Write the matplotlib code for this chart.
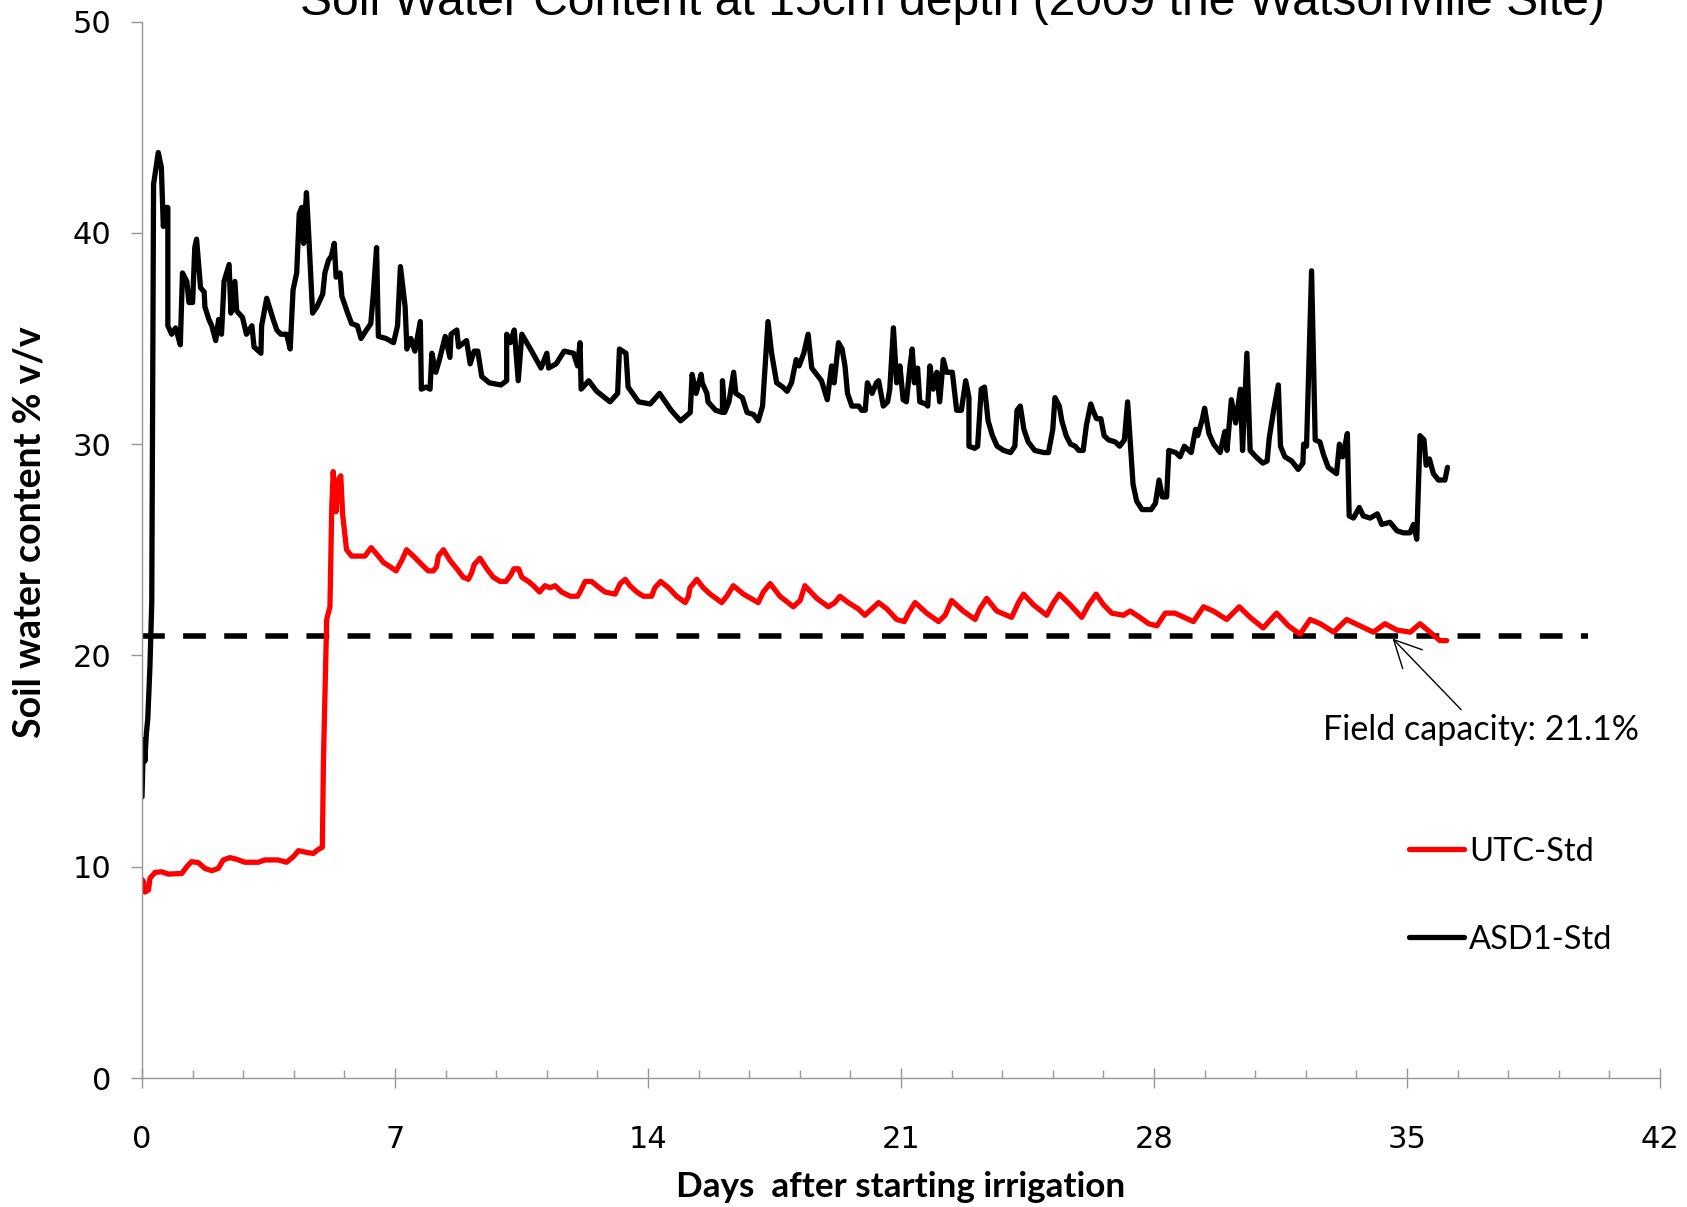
import matplotlib

matplotlib.use("Agg")

import matplotlib.pyplot as plt
from matplotlib.ticker import MultipleLocator

# ---- data (days after start, soil water content % v/v) ----
asd1_days = [
    0.00, 0.04, 0.08, 0.12, 0.16, 0.22, 0.27, 0.32, 0.45, 0.535, 0.59, 0.66, 0.715, 0.715,
    0.82, 0.93, 1.06, 1.12, 1.24, 1.30, 1.40, 1.46, 1.51, 1.62, 1.72, 1.74, 1.85, 1.93,
    2.04, 2.12, 2.20, 2.27, 2.41, 2.46, 2.57, 2.62, 2.78, 2.89, 3.04, 3.10, 3.29, 3.31,
    3.45, 3.63, 3.73, 3.84, 4.00, 4.10, 4.18, 4.28, 4.35, 4.42, 4.47, 4.55, 4.61, 4.72,
    4.84, 5.00, 5.06, 5.16, 5.24, 5.32, 5.37, 5.48, 5.53, 5.69, 5.80, 5.96, 6.06, 6.17,
    6.33, 6.40, 6.49, 6.54, 6.75, 6.96, 7.07, 7.15, 7.28, 7.33, 7.44, 7.55, 7.70, 7.73,
    7.86, 7.97, 8.02, 8.13, 8.23, 8.39, 8.52, 8.55, 8.71, 8.76, 8.98, 9.08, 9.19, 9.29,
    9.40, 9.61, 9.93, 10.09, 10.09, 10.19, 10.30, 10.41, 10.51, 10.78, 11.04, 11.20, 11.25,
    11.46, 11.68, 11.94, 12.05, 12.12, 12.15, 12.36, 12.58, 12.95, 13.16, 13.21, 13.39,
    13.45, 13.74, 14.06, 14.32, 14.64, 14.90, 15.17, 15.22, 15.33, 15.47,
    15.50, 15.63, 15.66, 15.87, 16.06, 16.06, 16.12, 16.24, 16.37, 16.43, 16.61, 16.74,
    16.92, 17.05, 17.17, 17.32, 17.42, 17.56, 17.73, 17.85, 17.97, 18.10, 18.18, 18.31,
    18.43, 18.53, 18.71, 18.80, 18.96, 19.08, 19.15, 19.27, 19.37, 19.45, 19.52, 19.64,
    19.83, 19.91, 20.01, 20.07, 20.20, 20.32, 20.38, 20.51, 20.63, 20.69, 20.79, 20.88,
    20.97, 21.06, 21.15, 21.25, 21.31, 21.37, 21.46, 21.52, 21.68, 21.74, 21.80, 21.89,
    21.99, 22.07, 22.17, 22.26, 22.42, 22.54, 22.67, 22.79, 22.88, 22.88, 23.04, 23.12,
    23.22, 23.31, 23.41, 23.53, 23.66, 23.84, 24.03, 24.15, 24.21, 24.30, 24.40, 24.52,
    24.70, 24.95, 25.08, 25.20, 25.26, 25.38, 25.45, 25.57, 25.69, 25.82, 25.92, 26.04,
    26.13, 26.25, 26.31, 26.41, 26.53, 26.62, 26.74, 26.93, 27.05, 27.18, 27.27, 27.36,
    27.42, 27.52, 27.67, 27.92, 28.04, 28.14, 28.23, 28.35, 28.41, 28.60, 28.72, 28.84,
    29.03, 29.15, 29.21, 29.34, 29.40, 29.52, 29.65, 29.83, 29.96, 30.02, 30.14, 30.26,
    30.39, 30.45, 30.57, 30.66, 30.82, 31.01, 31.13, 31.19, 31.31, 31.44, 31.50, 31.62,
    31.81, 31.99, 32.12, 32.14, 32.22, 32.36, 32.46, 32.59, 32.69, 32.82, 33.05, 33.13,
    33.22, 33.35, 33.40, 33.52, 33.68, 33.79, 33.98, 34.18, 34.30, 34.53, 34.72, 34.90,
    35.08, 35.18, 35.27, 35.36, 35.47, 35.53, 35.62, 35.73, 35.87, 35.96, 36.05, 36.12,
]
asd1_swc = [
    13.3, 16.0, 15.0, 16.3, 17.0, 19.5, 22.5, 42.3, 43.8, 43.1, 40.3, 41.2, 41.2, 35.6,
    35.2, 35.5, 34.7, 38.1, 37.7, 36.7, 36.7, 39.3, 39.7, 37.4, 37.2, 36.5, 35.9, 35.6,
    34.9, 35.9, 35.2, 37.7, 38.5, 36.2, 37.7, 36.3, 36.0, 35.2, 35.6, 34.6, 34.3, 35.6,
    36.9, 35.9, 35.4, 35.2, 35.2, 34.5, 37.3, 38.1, 40.9, 41.2, 39.5, 41.9, 40.0, 36.2,
    36.5, 37.1, 38.1, 38.7, 38.9, 39.5, 37.9, 38.1, 37.0, 36.2, 35.7, 35.6, 35.0, 35.3,
    35.7, 37.1, 39.3, 35.1, 35.0, 34.8, 35.6, 38.4, 36.5, 34.5, 35.0, 34.4, 35.8, 32.6,
    32.7, 32.6, 34.3, 33.4, 34.0, 35.1, 34.1, 35.2, 35.4, 34.6, 34.9, 33.8, 34.4, 34.4,
    33.2, 32.9, 32.8, 33.0, 35.2, 34.8, 35.4, 33.0, 35.2, 34.4, 33.6, 34.3, 33.6,
    33.8, 34.4, 34.3, 33.7, 34.8, 32.6, 33.0, 32.5, 32.0, 32.4, 34.5, 34.3,
    32.7, 32.0, 31.9, 32.4, 31.6, 31.1, 31.5, 33.3, 32.4, 33.3,
    32.9, 32.4, 32.0, 31.6, 31.5, 33.0, 31.5, 32.0, 33.4, 32.4, 32.2, 31.5,
    31.4, 31.1, 31.8, 35.8, 34.3, 32.9, 32.7, 32.5, 32.9, 34.0, 33.7, 34.3,
    35.2, 33.6, 33.2, 33.0, 32.1, 33.7, 32.9, 34.8, 34.5, 33.7, 32.4, 31.8,
    31.8, 31.6, 31.6, 32.9, 32.4, 32.9, 33.0, 31.8, 32.0, 32.6, 35.5, 32.9,
    33.7, 32.1, 32.0, 33.7, 34.5, 32.9, 33.6, 32.0, 31.9, 31.8, 33.7, 32.6,
    33.4, 32.0, 34.0, 33.4, 33.4, 31.6, 31.6, 33.0, 32.2, 29.9, 29.8, 29.9,
    32.6, 32.7, 31.1, 30.4, 29.9, 29.7, 29.6, 29.9, 31.6, 31.8, 30.7, 30.1,
    29.7, 29.6, 29.6, 30.7, 32.2, 31.8, 31.1, 30.4, 30.0, 29.9, 29.7, 29.7,
    30.9, 31.9, 31.6, 31.2, 31.2, 30.4, 30.2, 30.1, 29.9, 30.2, 32.0, 29.7,
    28.1, 27.3, 26.9, 26.9, 27.2, 28.3, 27.5, 27.5, 29.7, 29.6, 29.4, 29.9,
    29.6, 30.7, 30.4, 31.2, 31.7, 30.5, 30.0, 29.6, 30.6, 29.7, 32.1, 31.0,
    32.6, 29.7, 34.3, 29.7, 29.4, 29.1, 29.2, 30.3, 31.6, 32.8, 29.9, 29.4,
    29.2, 28.8, 29.1, 30.0, 29.9, 38.2, 30.2, 30.1, 29.5, 28.9, 28.6, 30.0,
    29.4, 30.5, 26.6, 26.5, 27.0, 26.6, 26.5, 26.7, 26.2, 26.3, 25.9, 25.8,
    25.8, 26.2, 25.5, 30.4, 30.2, 29.0, 29.3, 28.6, 28.3, 28.3, 28.3, 28.9,
]

utc_days = [
    0.00, 0.04, 0.08, 0.18, 0.22, 0.36, 0.54, 0.73, 1.10, 1.24, 1.37, 1.56, 1.74, 1.93,
    2.11, 2.25, 2.43, 2.62, 2.85, 3.22, 3.40, 3.77, 4.00, 4.19, 4.33, 4.60, 4.74, 4.88,
    4.99, 5.02, 5.11, 5.20, 5.25, 5.29, 5.37, 5.43, 5.50, 5.55, 5.62, 5.66, 5.80, 5.94,
    6.03, 6.17, 6.34, 6.54, 6.68, 6.86, 7.03, 7.19, 7.32, 7.51, 7.74, 7.92, 8.06, 8.15,
    8.20, 8.34, 8.52, 8.71, 8.89, 9.03, 9.12, 9.19, 9.35, 9.54, 9.72, 9.91, 10.07, 10.20,
    10.29, 10.42, 10.51, 10.69, 10.83, 11.00, 11.15, 11.29, 11.43, 11.61, 11.85, 12.05,
    12.12, 12.26, 12.44, 12.58, 12.81, 13.09, 13.23, 13.37, 13.50, 13.69, 13.87, 14.10,
    14.19, 14.35, 14.57, 14.79, 15.03, 15.12, 15.16, 15.35, 15.53, 15.72, 16.04, 16.18,
    16.36, 16.64, 17.05, 17.19, 17.38, 17.65, 18.02, 18.21, 18.34, 18.67, 18.99, 19.17,
    19.31, 19.54, 19.82, 20.00, 20.19, 20.38, 20.61, 20.88, 21.09, 21.21, 21.39, 21.71,
    22.04, 22.22, 22.40, 22.72, 23.05, 23.18, 23.37, 23.65, 24.06, 24.25, 24.39, 24.66,
    25.03, 25.22, 25.38, 25.68, 26.00, 26.19, 26.40, 26.60, 26.83, 27.15, 27.34, 27.61,
    27.85, 28.08, 28.31, 28.58, 29.09, 29.37, 29.64, 30.01, 30.36, 30.66, 31.02, 31.39,
    31.72, 32.04, 32.32, 32.60, 32.97, 33.33, 33.70, 34.07, 34.39, 34.72, 35.09, 35.36,
    35.64, 35.91, 36.10,
]
utc_swc = [
    9.4, 9.3, 8.8, 8.9, 9.45, 9.73, 9.76, 9.65, 9.68, 10.0, 10.24, 10.19, 9.92, 9.81,
    9.92, 10.32, 10.43, 10.35, 10.21, 10.21, 10.32, 10.32, 10.21, 10.48, 10.76, 10.66, 10.63, 10.82,
    10.92, 15.0, 21.7, 22.3, 27.0, 28.7, 26.8, 28.3, 28.5, 26.7, 25.6, 25.0, 24.7, 24.7,
    24.7, 24.7, 25.1, 24.7, 24.4, 24.2, 24.0, 24.5, 25.0, 24.7, 24.3, 24.0, 24.0, 24.2,
    24.7, 25.0, 24.5, 24.1, 23.7, 23.6, 23.9, 24.3, 24.6, 24.1, 23.7, 23.5, 23.5, 23.8,
    24.1, 24.1, 23.7, 23.5, 23.3, 23.0, 23.3, 23.2, 23.3, 23.0, 22.8, 22.8,
    23.0, 23.5, 23.5, 23.3, 23.0, 22.9, 23.4, 23.6, 23.3, 23.0, 22.8, 22.8,
    23.2, 23.5, 23.2, 22.8, 22.5, 22.8, 23.2, 23.6, 23.2, 22.9, 22.5, 22.8,
    23.3, 22.9, 22.5, 23.0, 23.4, 22.8, 22.3, 22.6, 23.3, 22.7, 22.3, 22.5,
    22.8, 22.5, 22.2, 21.9, 22.2, 22.5, 22.2, 21.7, 21.6, 22.0, 22.5, 22.0,
    21.6, 21.9, 22.6, 22.1, 21.7, 22.2, 22.7, 22.1, 21.8, 22.5, 22.9, 22.4,
    21.9, 22.5, 22.9, 22.4, 21.8, 22.4, 22.9, 22.4, 22.0, 21.9, 22.1, 21.8,
    21.5, 21.4, 22.0, 22.0, 21.6, 22.3, 22.1, 21.7, 22.3, 21.8, 21.3, 22.0,
    21.4, 21.0, 21.7, 21.5, 21.1, 21.7, 21.4, 21.1, 21.5, 21.2, 21.1, 21.5,
    21.1, 20.7, 20.7,
]

field_capacity_days = [0.0, 40.0]
field_capacity_level = [20.9, 20.9]

x_ticks = [0, 7, 14, 21, 28, 35, 42]
y_ticks = [0, 10, 20, 30, 40, 50]

TITLE = "Soil Water Content at 15cm depth (2009 the Watsonville Site)"
AXIS_GRAY = "#969696"
FONT = ["Lato", "DejaVu Sans"]


def main() -> None:
    plt.rcParams["font.family"] = FONT
    fig = plt.figure(figsize=(16.87, 12.07), dpi=100)
    ax = fig.add_axes([142 / 1687, 129 / 1207, 1518 / 1687, 1056.5 / 1207])

    ax.plot(field_capacity_days, field_capacity_level, color="black", linewidth=4.0,
            linestyle=(0, (4.1, 3.3)), dash_capstyle="butt")
    ax.plot(utc_days, utc_swc, color="#FF0000", linewidth=3.6, solid_joinstyle="round",
            solid_capstyle="round", label="UTC-Std")
    ax.plot(asd1_days, asd1_swc, color="black", linewidth=3.5, solid_joinstyle="round",
            solid_capstyle="round", label="ASD1-Std")

    ax.set_xlim(0, 42)
    ax.set_ylim(0, 50)
    ax.set_xticks(x_ticks)
    ax.set_yticks(y_ticks)
    ax.xaxis.set_minor_locator(MultipleLocator(1.4))
    for side in ("top", "right"):
        ax.spines[side].set_visible(False)
    for side in ("left", "bottom"):
        ax.spines[side].set_color(AXIS_GRAY)
        ax.spines[side].set_linewidth(1.0)
    ax.tick_params(axis="x", which="major", direction="inout", length=14.4, width=1.0,
                   color=AXIS_GRAY, labelsize=22, pad=27)
    ax.tick_params(axis="x", which="minor", direction="in", length=5.5, width=1.0,
                   color=AXIS_GRAY)
    ax.tick_params(axis="y", which="major", direction="out", length=8, width=1.0,
                   color=AXIS_GRAY, labelsize=22, pad=14)
    for label in ax.get_xticklabels() + ax.get_yticklabels():
        label.set_family(["DejaVu Sans"])

    ax.annotate("Field capacity: 21.1%", xy=(34.6, 20.8), xytext=(32.68, 16.45),
                fontsize=24.5, ha="left", va="center",
                arrowprops=dict(arrowstyle="->,head_length=0.8,head_width=0.4",
                                color="black", linewidth=1.0, shrinkA=2, shrinkB=0))

    handles, labels = ax.get_legend_handles_labels()
    for handle in handles:
        handle.set_linewidth(3.8)
    ax.legend(handles, labels, loc="center left", bbox_to_anchor=(35.06, 8.62),
              bbox_transform=ax.transData, frameon=False, fontsize=23.5, handlelength=1.69,
              handletextpad=0.14, labelspacing=1.78, borderpad=0, borderaxespad=0)

    fig.text(952 / 1687, 1 - 15 / 1207, TITLE, family=["Liberation Sans", "DejaVu Sans"],
             fontsize=34.6, ha="center", va="baseline")
    fig.text(30 / 1687, 1 - 532.5 / 1207, "Soil water content % v/v", fontsize=27,
             fontweight="bold", rotation=90, ha="center", va="center")
    fig.text(901 / 1687, 1 - 1187 / 1207, "Days  after starting irrigation", fontsize=25.3,
             fontweight="bold", ha="center", va="center")

    fig.savefig("out.png", dpi=100)
    plt.close(fig)


if __name__ == "__main__":
    main()
